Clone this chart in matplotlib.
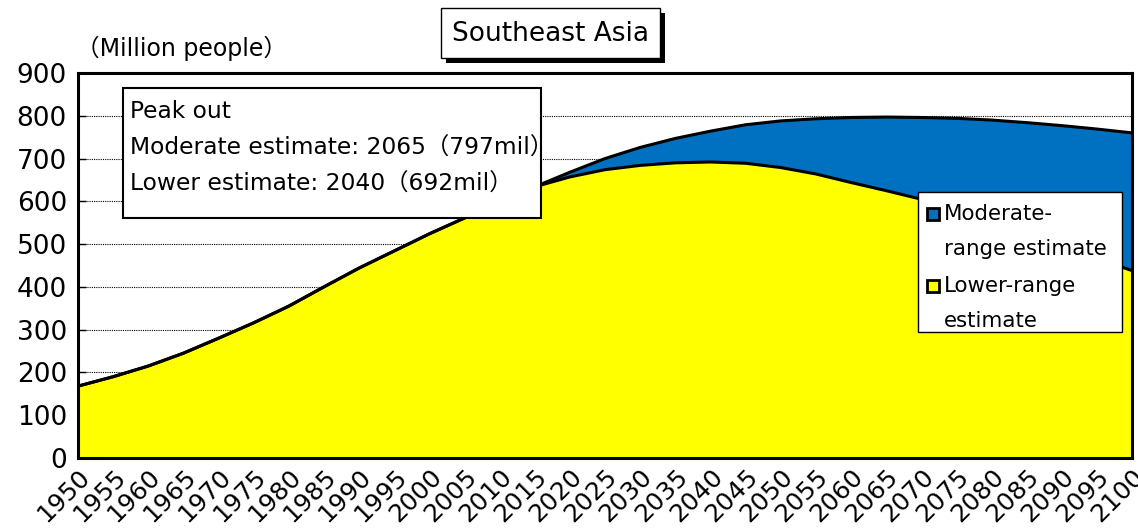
import numpy as np
import matplotlib
matplotlib.use("Agg")
import matplotlib.pyplot as plt
from matplotlib.patches import Rectangle

plt.rcParams['font.family'] = ['DejaVu Sans', 'Noto Sans CJK JP']

# population, million people (1950-2015 estimates, then projections)
years = list(range(1950, 2101, 5))
moderate = [168, 190, 215, 245, 280, 316, 355, 400, 444, 484, 524, 561, 598, 634,
            668, 700, 726, 747, 764, 779, 788, 793, 796, 797, 796, 794, 790, 784,
            777, 769, 760]
lower = [168, 190, 215, 245, 280, 316, 355, 400, 444, 484, 524, 561, 598, 634,
         657, 674, 684, 690, 692, 689, 679, 664, 644, 625, 605, 580, 553, 525,
         497, 467, 438]
yticks = list(range(0, 901, 100))

title = "Southeast Asia"
unit_label = "（Million people）"
peak_lines = ["Peak out",
              "Moderate estimate: 2065（797mil）",
              "Lower estimate: 2040（692mil）"]
legend_labels = [("Moderate-", "range estimate"), ("Lower-range", "estimate")]
blue = "#0070C0"
yellow = "#FFFF00"

W, H = 1138, 530
fig = plt.figure(figsize=(W / 100, H / 100), dpi=100)
fig.patch.set_facecolor("white")


def fx(px):
    return px / W


def fy(py):
    return 1 - py / H


ax = fig.add_axes([fx(78), fy(458), fx(1132) - fx(78), fy(73) - fy(458)])

x = np.array(years)
ax.fill_between(x, 0, moderate, color=blue, lw=0, zorder=2)
ax.fill_between(x, 0, lower, color=yellow, lw=0, zorder=3)
ax.plot(x, moderate, color="black", lw=2.2, zorder=4)
ax.plot(x, lower, color="black", lw=2.2, zorder=4)

ax.set_xlim(1950, 2100)
ax.set_ylim(0, 900)
ax.set_yticks(yticks)
ax.set_xticks(years)
ax.set_xticklabels([str(y) for y in years], rotation=45, ha="right",
                   va="top", rotation_mode="anchor")
ax.tick_params(axis="x", direction="in", length=7, width=1, labelsize=18, pad=5)
ax.tick_params(axis="y", direction="in", length=6, width=1, labelsize=19, pad=8)
ax.yaxis.grid(True, color="black", lw=0.8, linestyle=(0, (1, 1)), zorder=1)
ax.set_axisbelow(True)
for s in ax.spines.values():
    s.set_linewidth(2.2)
    s.set_zorder(6)

# unit label above y axis
fig.text(fx(76), fy(48), unit_label, fontsize=17, ha="left", va="center")

# title box with drop shadow
fig.patches.append(Rectangle((fx(446), fy(63)), fx(660) - fx(441), fy(8) - fy(58),
                             transform=fig.transFigure, facecolor="black",
                             edgecolor="none", zorder=5))
fig.patches.append(Rectangle((fx(441), fy(58)), fx(660) - fx(441), fy(8) - fy(58),
                             transform=fig.transFigure, facecolor="white",
                             edgecolor="black", lw=1, zorder=6))
fig.text(fx(551), fy(34), title, fontsize=19, ha="center", va="center", zorder=7)

# peak-out annotation box
fig.patches.append(Rectangle((fx(123), fy(218)), fx(541) - fx(123), fy(88) - fy(218),
                             transform=fig.transFigure, facecolor="white",
                             edgecolor="black", lw=1.5, zorder=8))
for i, line in enumerate(peak_lines):
    fig.text(fx(130), fy(112 + 36 * i), line, fontsize=16.8, ha="left",
             va="center", zorder=9)

# legend box
fig.patches.append(Rectangle((fx(918), fy(332)), fx(1122) - fx(918), fy(192) - fy(332),
                             transform=fig.transFigure, facecolor="white",
                             edgecolor="black", lw=1, zorder=8))
for i, ((l1, l2), col) in enumerate(zip(legend_labels, [blue, yellow])):
    y0 = 214 + 72 * i
    fig.patches.append(Rectangle((fx(927), fy(y0 + 6)), fx(12), fy(0) - fy(12),
                                 transform=fig.transFigure, facecolor=col,
                                 edgecolor="black", lw=2, zorder=9))
    fig.text(fx(944), fy(y0), l1, fontsize=15.4, ha="left", va="center", zorder=9)
    fig.text(fx(944), fy(y0 + 35), l2, fontsize=15.4, ha="left", va="center", zorder=9)

fig.savefig("out.png", dpi=100)
